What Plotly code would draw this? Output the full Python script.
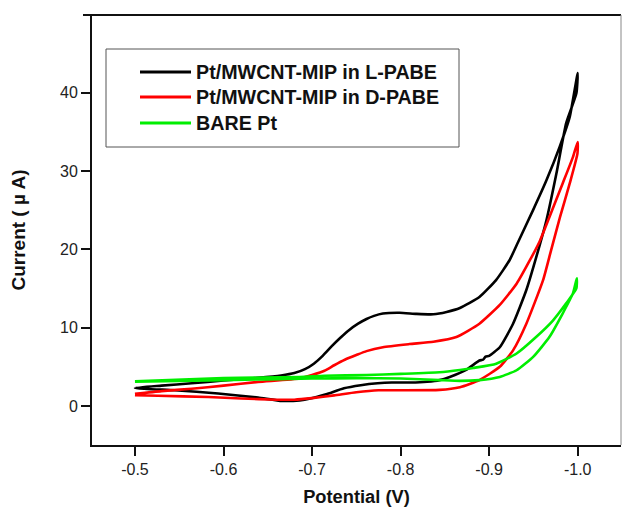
import plotly.graph_objects as go

# ---- data (potential in V, current in µA) ----
series_names = ["Pt/MWCNT-MIP in L-PABE", "Pt/MWCNT-MIP in D-PABE", "BARE Pt"]
series_colors = ["#000000", "#ff0000", "#00ee00"]

black_x = [-0.500, -0.530, -0.564, -0.600, -0.639, -0.665, -0.680, -0.692, -0.702, -0.712,
           -0.722, -0.732, -0.742, -0.752, -0.7615, -0.770, -0.780, -0.799, -0.818, -0.837,
           -0.852, -0.867, -0.889, -0.908, -0.923, -0.9326, -0.9496, -0.9647, -0.9797, -0.991,
           -1.000,
           -0.9985, -0.987, -0.976, -0.9647, -0.957, -0.942, -0.927, -0.912, -0.900, -0.896,
           -0.893, -0.889, -0.874, -0.8555, -0.844, -0.830, -0.811, -0.790, -0.774, -0.755,
           -0.736, -0.716, -0.698, -0.686, -0.666, -0.639, -0.594, -0.545, -0.500]
black_y = [2.3, 2.6, 2.9, 3.25, 3.6, 3.9, 4.2, 4.7, 5.4, 6.4,
           7.6, 8.7, 9.7, 10.5, 11.1, 11.5, 11.8, 11.9, 11.75, 11.7,
           12.0, 12.5, 13.9, 16.1, 18.6, 20.9, 25.0, 28.8, 33.1, 36.9,
           42.5,
           39.9, 36.1, 29.7, 23.7, 20.5, 14.8, 10.5, 7.5, 6.4, 6.3,
           5.9, 5.8, 4.6, 3.7, 3.3, 3.1, 3.0, 3.0, 2.9, 2.65,
           2.26, 1.5, 0.95, 0.72, 0.65, 1.07, 1.6, 2.0, 2.3]

red_x = [-0.500, -0.530, -0.564, -0.600, -0.639, -0.686, -0.700, -0.714, -0.725, -0.737,
         -0.750, -0.7615, -0.780, -0.810, -0.837, -0.863, -0.889, -0.912, -0.931, -0.946,
         -0.957, -0.968, -0.983, -0.9947, -1.000,
         -0.9997, -0.991, -0.980, -0.970, -0.961, -0.942, -0.927, -0.912, -0.889, -0.867,
         -0.844, -0.800, -0.775, -0.750, -0.725, -0.700, -0.680, -0.660, -0.620, -0.583,
         -0.526, -0.500]
red_y = [1.55, 1.9, 2.2, 2.6, 3.07, 3.5, 3.95, 4.5, 5.2, 5.9,
         6.5, 7.0, 7.5, 7.9, 8.2, 8.8, 10.5, 12.9, 15.6, 18.6,
         21.0, 24.1, 28.4, 31.8, 33.7,
         32.2, 28.4, 24.1, 19.9, 16.1, 10.5, 7.1, 5.0, 3.3, 2.4,
         2.05, 2.0, 2.0, 1.75, 1.35, 1.0, 0.8, 0.8, 0.95, 1.15,
         1.3, 1.37]

green_x = [-0.500, -0.600, -0.686, -0.714, -0.7615, -0.800, -0.844, -0.867, -0.882, -0.908,
           -0.931, -0.953, -0.972, -0.987, -0.9985,
           -0.999, -0.9947, -0.983, -0.968, -0.950, -0.931, -0.912, -0.889, -0.867, -0.844,
           -0.800, -0.750, -0.700, -0.600, -0.500]
green_y = [3.15, 3.55, 3.7, 3.85, 3.95, 4.1, 4.3, 4.6, 4.85, 5.4,
           6.7, 8.8, 10.9, 13.1, 15.0,
           16.3, 14.4, 11.8, 8.8, 6.3, 4.56, 3.7, 3.3, 3.2, 3.3,
           3.5, 3.55, 3.5, 3.3, 3.1]

x_ticks = [-0.5, -0.6, -0.7, -0.8, -0.9, -1.0]
x_tick_labels = ["-0.5", "-0.6", "-0.7", "-0.8", "-0.9", "-1.0"]
y_ticks = [0, 10, 20, 30, 40]
y_tick_labels = ["0", "10", "20", "30", "40"]

# ---- figure ----
W, H = 622, 507
L, R, T, B = 92, 1, 15, 62
PW, PH = W - L - R, H - T - B


def px(xp):
    return (xp - L) / PW


def py(yp):
    return (H - B - yp) / PH


FONT = "Liberation Sans, Arial, sans-serif"

fig = go.Figure()
for xs, ys, name, col in zip([black_x, red_x, green_x], [black_y, red_y, green_y],
                             series_names, series_colors):
    fig.add_trace(go.Scatter(x=xs, y=ys, mode="lines", name=name,
                             line=dict(color=col, width=2.6, shape="spline", smoothing=0.5),
                             showlegend=False))

shapes = []
annotations = []
# frame: top and right
shapes.append(dict(type="line", xref="paper", yref="paper", x0=px(83), x1=1, y0=1, y1=1,
                   line=dict(color="#111111", width=2.2)))
shapes.append(dict(type="line", xref="paper", yref="paper", x0=1, x1=1, y0=0, y1=1,
                   line=dict(color="#888888", width=1)))
# legend box
shapes.append(dict(type="rect", xref="paper", yref="paper", x0=px(106), x1=px(459),
                   y0=py(147), y1=py(49), line=dict(color="#555555", width=1),
                   fillcolor="white"))
for i, (name, col) in enumerate(zip(series_names, series_colors)):
    yy = [72, 97, 123][i]
    shapes.append(dict(type="line", xref="paper", yref="paper", x0=px(140), x1=px(191),
                       y0=py(yy), y1=py(yy), line=dict(color=col, width=3.2)))
    annotations.append(dict(xref="paper", yref="paper", x=px(194), y=py(yy),
                            text="<b>" + name + "</b>",
                            showarrow=False, xanchor="left", yanchor="middle",
                            font=dict(family=FONT, size=19.7, color="#111111")))

fig.update_layout(
    width=W, height=H,
    margin=dict(l=L, r=R, t=T, b=B),
    paper_bgcolor="white", plot_bgcolor="white",
    font=dict(family=FONT, color="#111111"),
    shapes=shapes, annotations=annotations,
    xaxis=dict(range=[-0.4515, -1.0489], tickvals=x_ticks, ticktext=x_tick_labels,
               showgrid=False, zeroline=False, showline=True, linecolor="#111111",
               linewidth=2, ticks="outside", ticklen=9, tickwidth=1.5, tickcolor="#111111",
               tickfont=dict(size=16, family=FONT, color="#222222"),
               title=dict(text="<b>Potential (V)</b>", standoff=14,
                          font=dict(size=18.3, family=FONT, color="#111111"))),
    yaxis=dict(range=[-4.98, 49.9], tickvals=y_ticks, ticktext=y_tick_labels,
               showgrid=False, zeroline=False, showline=True, linecolor="#111111",
               linewidth=2, ticks="outside", ticklen=9, tickwidth=1.5, tickcolor="#111111",
               tickfont=dict(size=16, family=FONT, color="#222222"),
               title=dict(text="<b>Current ( µ A)</b>", standoff=29,
                          font=dict(size=19, family=FONT, color="#111111"))),
)

fig.write_html("out.html")
